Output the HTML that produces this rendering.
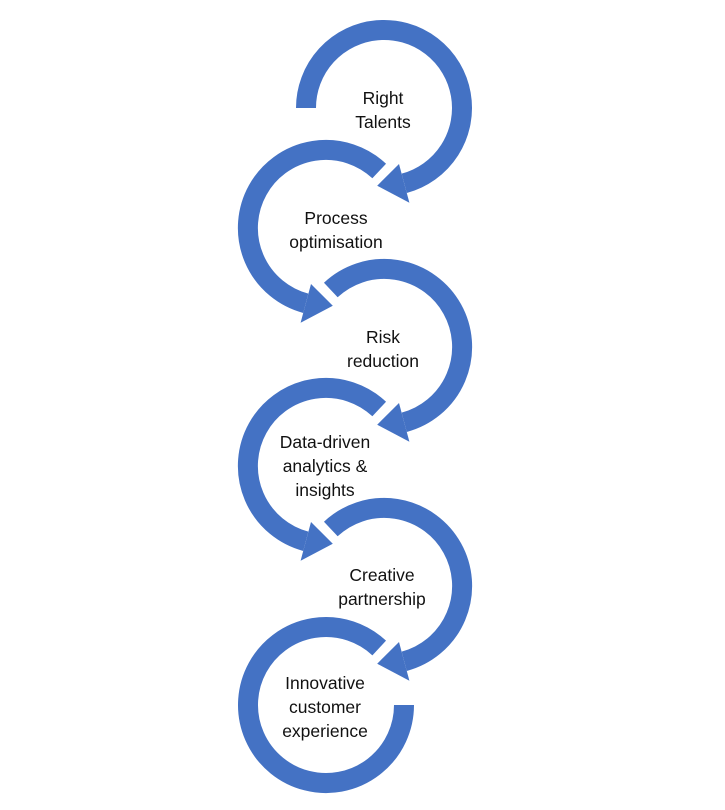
<!DOCTYPE html>
<html><head><style>
html,body{margin:0;padding:0;background:#fff;}
svg{display:block;}
text{font-family:"Liberation Sans",sans-serif;font-size:17.5px;fill:#111;text-anchor:middle;}
</style></head><body>
<svg width="725" height="810" viewBox="0 0 725 810">
<defs>
<g id="R"><path d="M-53.2,-57 A78,78 0 1 1 20.2,75.3" fill="none" stroke="#4472C4" stroke-width="20"/>
<polygon points="15,56 25.4,94.7 -6.8,77.7" fill="#4472C4"/></g>
<g id="L"><path d="M53.2,-57 A78,78 0 1 0 -20.2,75.3" fill="none" stroke="#4472C4" stroke-width="20"/>
<polygon points="-15,56 -25.4,94.7 6.8,77.7" fill="#4472C4"/></g>
</defs>
<g transform="translate(384,108)"><path d="M-78,0 A78,78 0 1 1 20.2,75.3" fill="none" stroke="#4472C4" stroke-width="20"/>
<polygon points="15,56 25.4,94.7 -6.8,77.7" fill="#4472C4"/></g>
<use href="#L" transform="translate(326,228)"/>
<use href="#R" transform="translate(384,347)"/>
<use href="#L" transform="translate(326,466)"/>
<use href="#R" transform="translate(384,586)"/>
<g transform="translate(326,705)"><path d="M53.2,-57 A78,78 0 1 0 78,0" fill="none" stroke="#4472C4" stroke-width="20"/></g>

<text x="383" y="104">Right</text><text x="383" y="128">Talents</text>
<text x="336" y="224">Process</text><text x="336" y="248">optimisation</text>
<text x="383" y="343">Risk</text><text x="383" y="367">reduction</text>
<text x="325" y="448">Data-driven</text><text x="325" y="472">analytics &amp;</text><text x="325" y="496">insights</text>
<text x="382" y="581">Creative</text><text x="382" y="605">partnership</text>
<text x="325" y="689">Innovative</text><text x="325" y="713">customer</text><text x="325" y="737">experience</text>
</svg>
</body></html>
